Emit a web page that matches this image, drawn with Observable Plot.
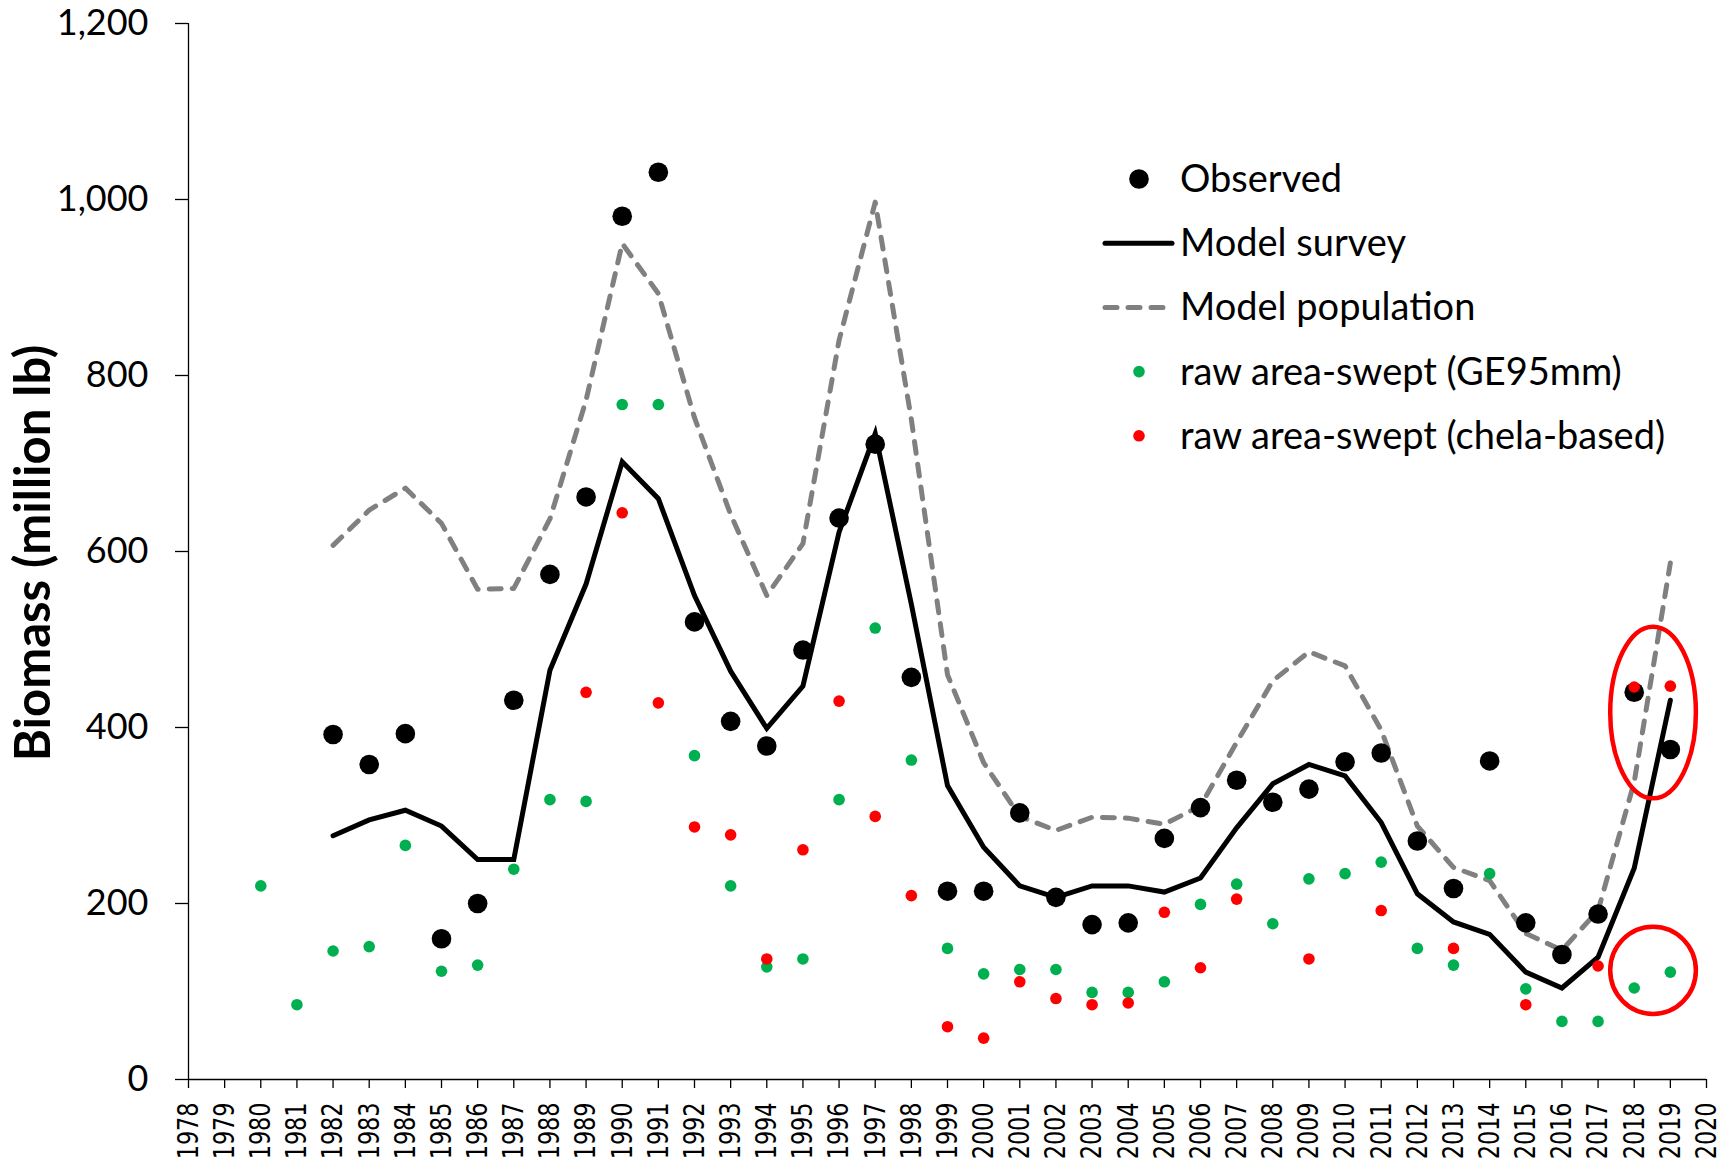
<!DOCTYPE html>
<html>
<head>
<meta charset="utf-8">
<script src="https://cdn.jsdelivr.net/npm/d3@7"></script>
<script src="https://cdn.jsdelivr.net/npm/@observablehq/plot@0.6"></script>
<style>
  html, body { margin: 0; padding: 0; background: #fff; }
  #chart svg { display: block; }
</style>
</head>
<body>
<div id="chart"></div>
<script>
// Survey years with model output
const modelYears = d3.range(1982, 2020);

// Model survey biomass (million lb)
const modelSurvey = [
  277, 295, 306, 288, 250, 250, 465, 563, 702, 660,
  550, 464, 399, 447, 622, 734, 540, 334, 264, 220,
  207, 220, 220, 213, 229, 286, 336, 358, 345, 292,
  211, 179, 165, 122, 104, 139, 240, 431
];

// Model population biomass (million lb)
const modelPopulation = [
  607, 647, 672, 632, 557, 558, 637, 772, 950, 893,
  752, 642, 550, 609, 840, 997, 750, 460, 360, 299,
  283, 298, 297, 290, 311, 383, 453, 486, 470, 397,
  288, 241, 226, 166, 147, 192, 338, 587
];

// Observed survey biomass, 1982-2019
const observed = [
  392, 358, 393, 160, 200, 431, 574, 662, 981, 1031,
  520, 407, 379, 488, 638, 722, 457, 214, 214, 303,
  207, 176, 178, 274, 309, 340, 315, 330, 361, 371,
  271, 217, 362, 178, 142, 188, 440, 375
];

// Raw area-swept estimates, GE95mm, 1980-2019
const sweptYears = d3.range(1980, 2020);
const sweptGE95 = [
  220, 85, 146, 151, 266, 123, 130, 239, 318, 316,
  767, 767, 368, 220, 128, 137, 318, 513, 363, 149,
  120, 125, 125, 99, 99, 111, 199, 222, 177, 228,
  234, 247, 149, 130, 234, 103, 66, 66, 104, 122
];

// Raw area-swept estimates, chela-based, 1989-2019 (null = no estimate)
const chelaYears = d3.range(1989, 2020);
const sweptChela = [
  440, 644, 428, 287, 278, 137, 261, 430, 299, 209,
  60, 47, 111, 92, 85, 87, 190, 127, 205, null,
  137, null, 192, null, 149, null, 85, null, 129, 446,
  447
];

// Highlighted recent estimates (year span and biomass span of each ring)
const highlights = [
  {from: 2017.35, to: 2019.72, low: 319, high: 514},
  {from: 2017.35, to: 2019.72, low: 74, high: 173}
];

const yTicks = d3.range(0, 1201, 200);
const xTicks = d3.range(1978, 2021);

const modelRows = modelYears.map((year, i) => ({year, survey: modelSurvey[i], population: modelPopulation[i]}));
const observedRows = modelYears.map((year, i) => ({year, value: observed[i]}));
const ge95Rows = sweptYears.map((year, i) => ({year, value: sweptGE95[i]}));
const chelaRows = chelaYears.map((year, i) => ({year, value: sweptChela[i]})).filter(d => d.value != null);

const GREEN = "#00B050", RED = "#FF0000", GREY = "#808080";
const DASH = "12,11";

// Red rings drawn through the plot's own scales
function highlightRings(index, scales) {
  const g = d3.create("svg:g").attr("fill", "none").attr("stroke", RED).attr("stroke-width", 4.5);
  for (const h of highlights) {
    const x1 = scales.x(h.from), x2 = scales.x(h.to);
    const y1 = scales.y(h.high), y2 = scales.y(h.low);
    g.append("ellipse")
      .attr("cx", (x1 + x2) / 2).attr("cy", (y1 + y2) / 2)
      .attr("rx", Math.abs(x2 - x1) / 2).attr("ry", Math.abs(y2 - y1) / 2);
  }
  return g.node();
}

const chart = Plot.plot({
  width: 1734,
  height: 1163,
  marginLeft: 188,
  marginRight: 28,
  marginTop: 23,
  marginBottom: 84,
  x: {domain: [1978, 2020]},
  y: {domain: [0, 1200]},
  style: {background: "white", color: "black", overflow: "visible"},
  marks: [
    Plot.axisY(yTicks, {
      tickFormat: d3.format(","), tickSize: 13, tickPadding: 27,
      fontSize: 36, fontFamily: "Lato", label: null, strokeWidth: 1.3
    }),
    Plot.axisX(xTicks, {
      tickFormat: d => String(d), tickRotate: -90, tickSize: 9, tickPadding: 14,
      fontSize: 29, fontFamily: "DejaVu Sans", label: null, strokeWidth: 1.3
    }),
    Plot.ruleX([1978], {y1: 0, y2: 1200, stroke: "black", strokeWidth: 1.3}),
    Plot.ruleY([0], {x1: 1978, x2: 2020, stroke: "black", strokeWidth: 1.3}),
    Plot.line(modelRows, {
      x: "year", y: "population", stroke: GREY, strokeWidth: 5,
      strokeDasharray: DASH, strokeLinecap: "round", strokeLinejoin: "round"
    }),
    Plot.line(modelRows, {
      x: "year", y: "survey", stroke: "black", strokeWidth: 5,
      strokeLinejoin: "miter", strokeMiterlimit: 10
    }),
    Plot.dot(observedRows, {x: "year", y: "value", r: 9.8, fill: "black", stroke: null}),
    Plot.dot(ge95Rows, {x: "year", y: "value", r: 5.8, fill: GREEN, stroke: null}),
    Plot.dot(chelaRows, {x: "year", y: "value", r: 5.8, fill: RED, stroke: null}),
    highlightRings
  ]
});

const svg = d3.select(chart);

// Condense the year labels along their length
svg.selectAll('g[aria-label="x-axis tick label"] text').each(function () {
  const t = this.getAttribute("transform") || "";
  this.setAttribute("transform", t + " scale(0.77,1)");
});

// Y-axis title
svg.append("text")
  .attr("transform", "translate(50,553) rotate(-90)")
  .attr("text-anchor", "middle")
  .attr("font-family", "Lato")
  .attr("font-weight", "bold")
  .attr("font-size", 49)
  .attr("fill", "black")
  .text("Biomass (million lb)");

// Legend
const legend = svg.append("g")
  .attr("font-family", "Lato").attr("font-size", 38)
  .attr("text-anchor", "start").attr("fill", "black");
const legendItems = [
  {label: "Observed", kind: "dot", color: "black", r: 9.8},
  {label: "Model survey", kind: "line", color: "black"},
  {label: "Model population", kind: "dash", color: GREY},
  {label: "raw area-swept (GE95mm)", kind: "dot", color: GREEN, r: 5.8},
  {label: "raw area-swept (chela-based)", kind: "dot", color: RED, r: 5.8}
];
legendItems.forEach((item, i) => {
  const cy = 179 + i * 64.2;
  if (item.kind === "dot") {
    legend.append("circle").attr("cx", 1139).attr("cy", cy).attr("r", item.r).attr("fill", item.color);
  } else {
    const l = legend.append("line")
      .attr("x1", 1105).attr("x2", 1172).attr("y1", cy).attr("y2", cy)
      .attr("stroke", item.color).attr("stroke-width", 5).attr("stroke-linecap", "round");
    if (item.kind === "dash") l.attr("stroke-dasharray", DASH);
  }
  legend.append("text").attr("x", 1180).attr("y", cy + 13).text(item.label);
});

document.getElementById("chart").appendChild(chart);
</script>
</body>
</html>
